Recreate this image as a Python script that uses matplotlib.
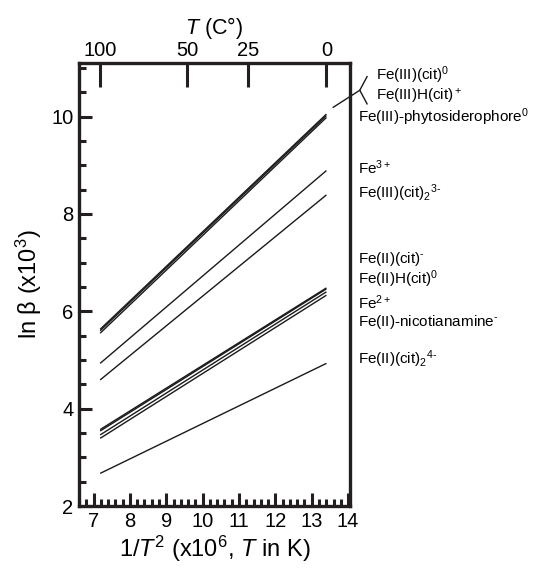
import matplotlib
matplotlib.use("Agg")
import matplotlib.pyplot as plt
from matplotlib.ticker import MultipleLocator
import numpy as np

plt.rcParams['font.family'] = ['Liberation Sans', 'DejaVu Sans']
plt.rcParams['mathtext.fontset'] = 'custom'
plt.rcParams['mathtext.rm'] = 'Liberation Sans'
plt.rcParams['mathtext.it'] = 'Liberation Sans:italic'

# temperature end points (deg C) of every line
t_start_c = 100
t_end_c = 0

species = ["Fe(III)(cit)0", "Fe(III)H(cit)+", "Fe(III)-phytosiderophore0",
           "Fe3+", "Fe(III)(cit)2 3-", "Fe(II)(cit)-", "Fe(II)H(cit)0",
           "Fe2+", "Fe(II)-nicotianamine-", "Fe(II)(cit)2 4-"]
ln_beta_100 = [5.63, 5.60, 5.55, 4.93, 4.59, 3.57, 3.54, 3.46, 3.39, 2.67]
ln_beta_0 = [10.05, 10.02, 9.98, 8.89, 8.39, 6.48, 6.46, 6.40, 6.33, 4.93]

# right side labels (mathtext) and their heights
labels = [r"Fe(III)-phytosiderophore$^0$", r"Fe$^{3+}$", r"Fe(III)(cit)$_2$$^{3\text{-}}$",
          r"Fe(II)(cit)$^{\text{-}}$", r"Fe(II)H(cit)$^0$", r"Fe$^{2+}$",
          r"Fe(II)-nicotianamine$^{\text{-}}$", r"Fe(II)(cit)$_2$$^{4\text{-}}$"]
label_y = [9.98, 8.95, 8.43, 7.08, 6.66, 6.18, 5.78, 5.01]
bracket_labels = [r"Fe(III)(cit)$^0$", r"Fe(III)H(cit)$^+$"]
bracket_y = [10.85, 10.42]

top_ticks_c = [100, 50, 25, 0]


def inv_t2(tc):
    return 1e6 / (np.asarray(tc, dtype=float) + 273.15) ** 2


fig = plt.figure(figsize=(5.5, 5.69), dpi=100)
ax = fig.add_axes([0.1436, 0.1107, 0.4927, 0.7786])

x0, x1 = inv_t2(t_start_c), inv_t2(t_end_c)
for a, b in zip(ln_beta_100, ln_beta_0):
    ax.plot([x0, x1], [a, b], color='#1a1a1a', lw=1.0, solid_capstyle='butt')

ax.set_xlim(6.6, 14.05)
ax.set_ylim(2, 11.1)
ax.xaxis.set_major_locator(MultipleLocator(1))
ax.xaxis.set_minor_locator(MultipleLocator(0.2))
ax.yaxis.set_major_locator(MultipleLocator(2))
ax.yaxis.set_minor_locator(MultipleLocator(0.5))
ax.tick_params(which='both', direction='in', width=2.2, top=False, right=False,
               labelsize=14.5, color='#231f20')
ax.tick_params(which='major', length=9.5, pad=4)
ax.tick_params(which='minor', length=5)
for s in ax.spines.values():
    s.set_linewidth(2.4)
    s.set_color('#231f20')

ax.set_xlabel(r"1/$T^2$ (x10$^6$, $T$ in K)", fontsize=17, labelpad=2)
ax.set_ylabel(r"ln β (x10$^3$)", fontsize=17, labelpad=5)

top = ax.twiny()
top.set_xlim(ax.get_xlim())
top.set_xticks(inv_t2(top_ticks_c))
top.set_xticklabels([str(t) for t in top_ticks_c])
top.tick_params(direction='in', length=17, width=2.2, labelsize=14.5, pad=2,
                color='#231f20')
top.set_xlabel(r"$T$ (C°)", fontsize=15.5, labelpad=5)
for s in top.spines.values():
    s.set_visible(False)

for txt, y in zip(labels, label_y):
    ax.text(14.27, y, txt, fontsize=11, va='center', ha='left', clip_on=False)
for txt, y in zip(bracket_labels, bracket_y):
    ax.text(14.76, y, txt, fontsize=11, va='center', ha='left', clip_on=False)

# bracket pointing at the two Fe(III) citrate lines
ax.plot([13.59, 14.32], [10.19, 10.54], color='#1a1a1a', lw=1.0, clip_on=False)
ax.plot([14.52, 14.32, 14.52], [10.82, 10.54, 10.26], color='#1a1a1a', lw=1.0,
        clip_on=False)

fig.savefig("out.png", dpi=100)
